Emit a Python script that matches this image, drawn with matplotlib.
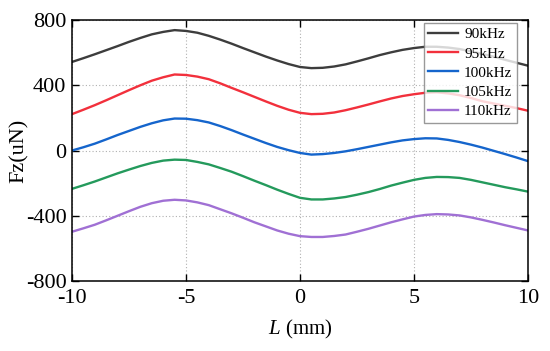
import matplotlib
matplotlib.use("Agg")
import matplotlib.pyplot as plt

plt.rcParams['font.family'] = ['Liberation Serif', 'DejaVu Serif']
plt.rcParams['mathtext.fontset'] = 'custom'
plt.rcParams['mathtext.it'] = 'Liberation Serif:italic'
plt.rcParams['mathtext.rm'] = 'Liberation Serif'
plt.rcParams['axes.unicode_minus'] = False

# position along the track (mm), half-mm steps
L = [-10, -9.5, -9, -8.5, -8, -7.5, -7, -6.5, -6, -5.5, -5, -4.5, -4, -3.5,
     -3, -2.5, -2, -1.5, -1, -0.5, 0, 0.5, 1, 1.5, 2, 2.5, 3, 3.5, 4, 4.5,
     5, 5.5, 6, 6.5, 7, 7.5, 8, 8.5, 9, 9.5, 10]

# Fz (uN) for each frequency
fz_90 = [543, 566, 590, 615, 640, 666, 690, 712, 727, 738, 733, 722, 703, 680,
         655, 628, 602, 576, 552, 530, 512, 505, 507, 515, 528, 546, 565, 585,
         602, 617, 628, 636, 636, 631, 622, 608, 592, 575, 556, 538, 520]
fz_95 = [223, 250, 278, 308, 339, 370, 400, 428, 449, 466, 463, 453, 437, 412,
         384, 357, 329, 301, 274, 250, 231, 223, 225, 233, 247, 264, 282, 301,
         319, 334, 345, 354, 357, 350, 339, 322, 302, 288, 274, 260, 244]
fz_100 = [0, 20, 42, 68, 95, 120, 145, 167, 185, 196, 195, 186, 172, 150,
          125, 98, 72, 46, 22, 2, -15, -25, -22, -15, -5, 8, 22, 36,
          50, 62, 70, 75, 74, 65, 52, 36, 18, -2, -22, -43, -65]
fz_105 = [-235, -213, -190, -165, -140, -117, -95, -76, -62, -56, -58, -70, -85,
          -107, -130, -157, -185, -212, -240, -266, -290, -300, -300, -294, -285,
          -271, -255, -236, -215, -197, -180, -168, -162, -163, -168, -180, -195,
          -210, -225, -238, -252]
fz_110 = [-498, -477, -455, -428, -400, -372, -345, -323, -308, -302, -306, -318,
          -335, -360, -385, -412, -440, -465, -490, -510, -525, -530, -530, -524,
          -515, -498, -480, -460, -440, -422, -405, -395, -390, -392, -398, -410,
          -425, -441, -458, -474, -490]

series = [
    ("90kHz", fz_90, "#3d3d3d"),
    ("95kHz", fz_95, "#f2303c"),
    ("100kHz", fz_100, "#1565cc"),
    ("105kHz", fz_105, "#249a5c"),
    ("110kHz", fz_110, "#a070d4"),
]

fig = plt.figure(figsize=(5.5, 3.51), dpi=100)
ax = fig.add_axes([0.1309, 0.1994, 0.829, 0.7436])

for name, vals, col in series:
    ax.plot(L, vals, color=col, lw=1.7, label=name)

ax.set_xlim(-10, 10)
ax.set_ylim(-800, 800)
ax.set_xticks([-10, -5, 0, 5, 10])
ax.set_yticks([-800, -400, 0, 400, 800])
ax.tick_params(direction='in', length=5, width=1, top=True, right=True,
               labelsize=16)
ax.tick_params(axis='y', pad=4)
ax.tick_params(axis='x', pad=6)
ax.grid(True, ls=(0, (1, 2)), color='#b0b0b0', lw=0.8)
for sp in ax.spines.values():
    sp.set_linewidth(1.1)

ax.set_xlabel('$L$ (mm)', fontsize=15, labelpad=7)
ax.set_ylabel('Fz(uN)', fontsize=16, labelpad=-2)

leg = ax.legend(loc='upper right', bbox_to_anchor=(0.976, 0.988),
                fontsize=11, frameon=True, fancybox=False, edgecolor='#808080',
                handlelength=1.95, labelspacing=0.36, borderpad=0.3,
                handletextpad=0.4, borderaxespad=0)
leg.get_frame().set_linewidth(1.0)

fig.savefig('out.png', dpi=100)
